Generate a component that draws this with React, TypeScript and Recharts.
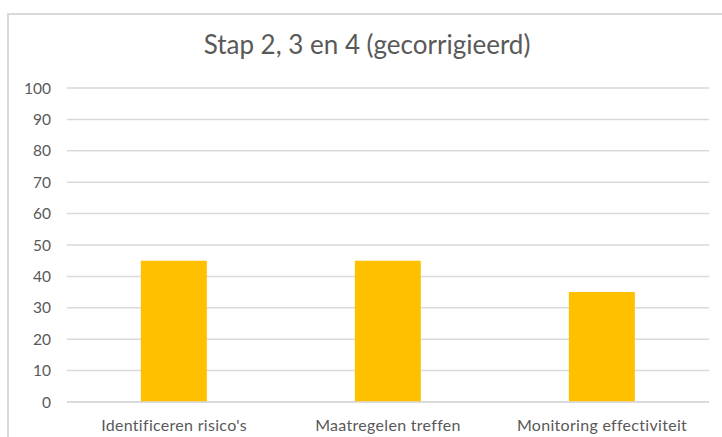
import { Bar, BarChart, CartesianGrid, XAxis, YAxis } from "recharts";

const categories = ["Identificeren risico's", "Maatregelen treffen", "Monitoring effectiviteit"];
const values = [45, 45, 35];
const yTicks = [0, 10, 20, 30, 40, 50, 60, 70, 80, 90, 100];

const data = categories.map((name, i) => ({ name, value: values[i] }));

const FONT = "Lato, 'Noto Sans', sans-serif";
const GREY = "#595959";

export default function App() {
  return (
    <div style={{ position: "absolute", left: 0, top: 0, width: 722, height: 437, background: "#fff", overflow: "hidden", fontFamily: FONT }}>
      <div
        style={{
          position: "absolute",
          left: 7,
          top: 13,
          width: 730,
          height: 440,
          border: "2px solid #d9d9d9",
          boxSizing: "border-box",
        }}
      />
      <div
        style={{
          position: "absolute",
          left: 6,
          top: 29,
          width: 722,
          textAlign: "center",
          fontSize: 26,
          lineHeight: 1.2,
          color: GREY,
        }}
      >
        Stap 2, 3 en 4 (gecorrigieerd)
      </div>
      <div style={{ position: "absolute", left: 0, top: 0 }}>
        <BarChart
          width={722}
          height={437}
          data={data}
          margin={{ top: 88, right: 13, left: 17, bottom: 5 }}
          barCategoryGap="34.5%"
        >
          <CartesianGrid vertical={false} stroke="#d9d9d9" strokeWidth={1.5} />
          <XAxis
            dataKey="name"
            height={30}
            axisLine={{ stroke: "#d9d9d9", strokeWidth: 1.5 }}
            tickLine={false}
            tick={{ fill: GREY, fontSize: 16, fontFamily: FONT, letterSpacing: 0.3 }}
            tickMargin={12}
          />
          <YAxis
            width={50}
            domain={[0, 100]}
            ticks={yTicks}
            axisLine={false}
            tickLine={false}
            tickMargin={10}
            tick={{ fill: GREY, fontSize: 15.5, fontFamily: FONT }}
          />
          <Bar dataKey="value" fill="#ffc000" isAnimationActive={false} />
        </BarChart>
      </div>
    </div>
  );
}
